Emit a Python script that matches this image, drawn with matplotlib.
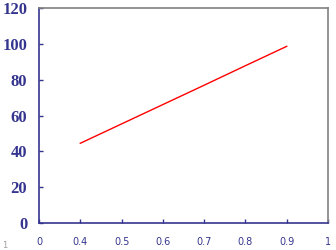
import matplotlib
matplotlib.use("Agg")
import matplotlib.pyplot as plt

x_values = [0.4, 0.5, 0.6, 0.7, 0.8, 0.9]
y_values = [44.5, 55.3, 66.1, 76.9, 87.8, 98.6]
x_ticks = [0.3, 0.4, 0.5, 0.6, 0.7, 0.8, 0.9, 1.0]
x_tick_labels = ["0", "0.4", "0.5", "0.6", "0.7", "0.8", "0.9", "1"]
y_ticks = [0, 20, 40, 60, 80, 100, 120]
y_tick_labels = ["0", "20", "40", "60", "80", "100", "120"]

navy = "#35358f"

fig = plt.figure(figsize=(3.36, 2.5), dpi=100)
ax = fig.add_axes([39/336, 1-223/250, (328-39)/336, (223-8)/250])
ax.plot(x_values, y_values, color="#ff0000", linewidth=1.0)

ax.set_xlim(0.3, 1.0)
ax.set_ylim(0, 120)
ax.set_xticks(x_ticks)
ax.set_xticklabels(x_tick_labels, fontsize=7, color=navy, family="DejaVu Sans")
ax.set_yticks(y_ticks)
ax.set_yticklabels(y_tick_labels, fontsize=12, color=navy, family="Liberation Serif", fontweight="bold")
ax.tick_params(axis="x", direction="in", length=3, width=1, color=navy, pad=10)
ax.tick_params(axis="y", direction="in", length=3, width=1, color=navy, pad=8.5)

ax.spines["left"].set_color(navy)
ax.spines["bottom"].set_color(navy)
ax.spines["top"].set_color("#808080")
ax.spines["right"].set_color("#808080")
for s in ax.spines.values():
    s.set_linewidth(1.2)

fig.text(2/336, 1-245/250, "1", fontsize=6, color="#a0a0a0", ha="left", va="center")

fig.savefig("out.png", dpi=100)
